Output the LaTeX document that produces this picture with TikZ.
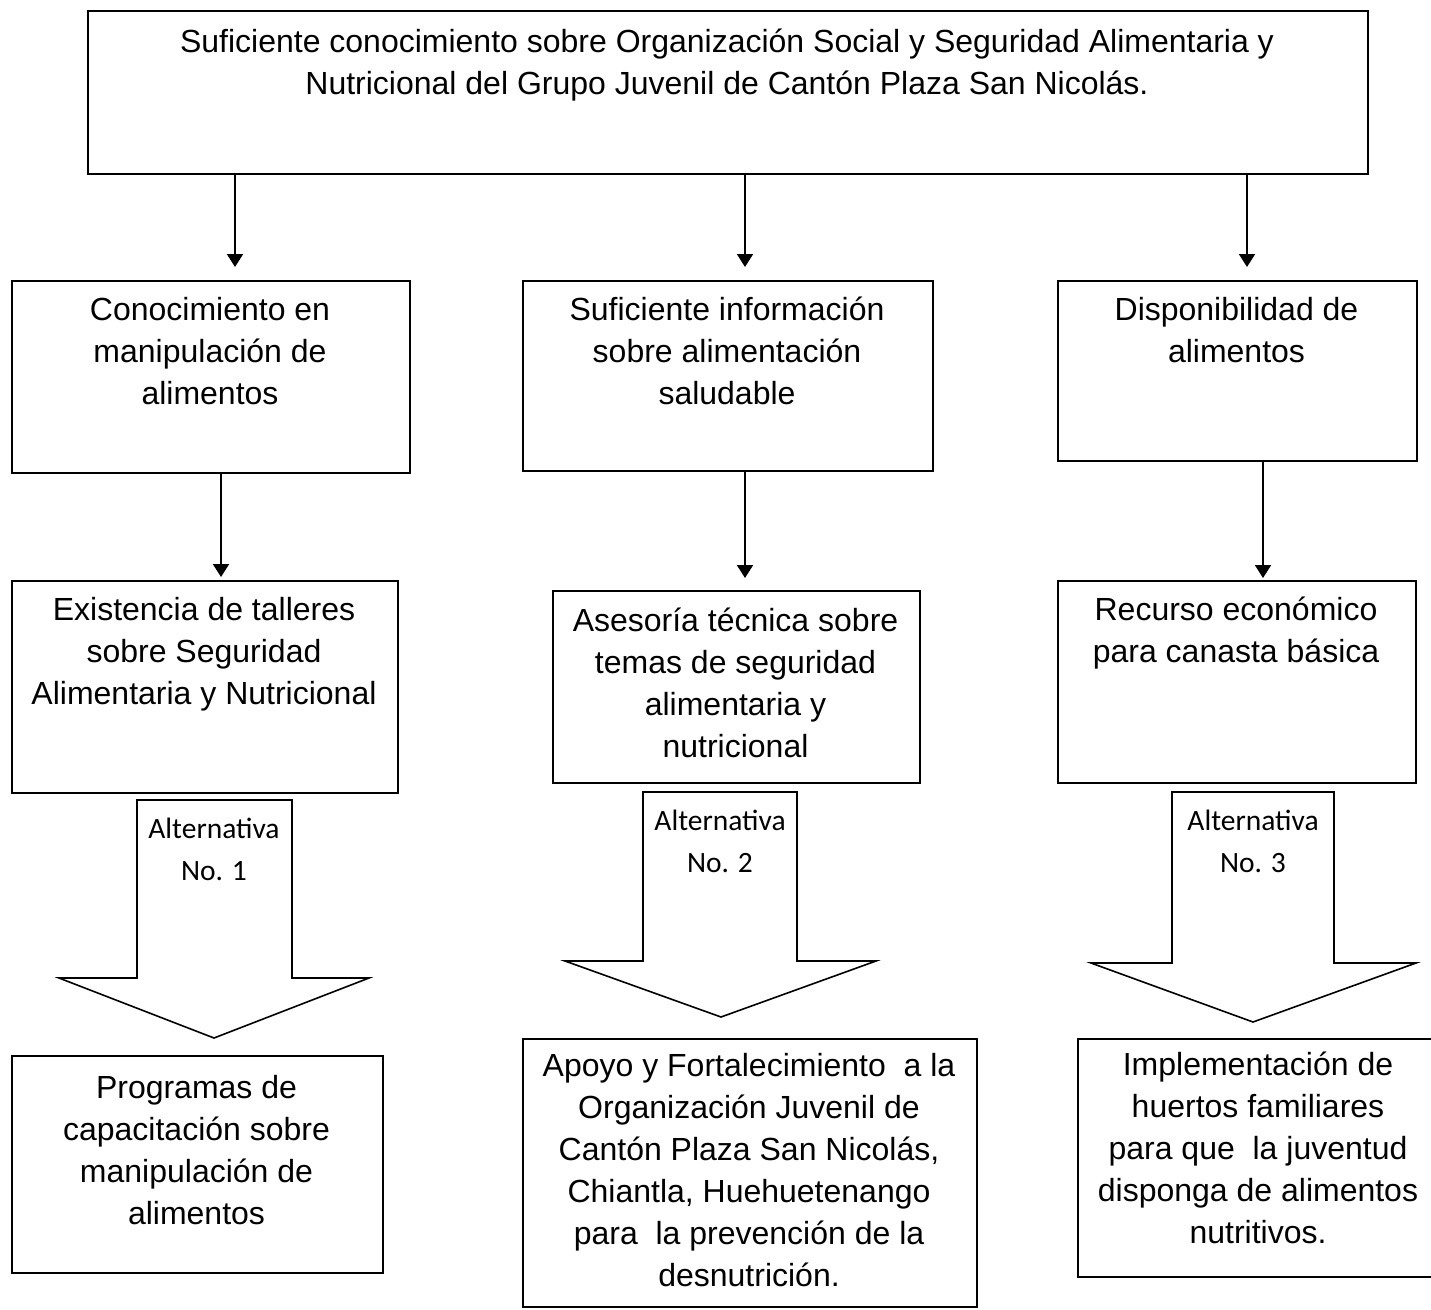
\documentclass[tikz,border=0pt]{standalone}
\usepackage{fontspec}
\setmainfont{Liberation Sans}
\newfontfamily\calib{Carlito}
\usetikzlibrary{arrows.meta}
\begin{document}
\begin{tikzpicture}[x=1pt,y=-1pt,
  box/.style={draw, line width=2pt, inner sep=0pt, anchor=north west},
  txt/.style={font=\fontsize{32}{42}\selectfont, align=center, inner sep=0pt, anchor=north},
  alt/.style={font=\calib\fontsize{29.5}{42}\selectfont, align=center, inner sep=0pt, anchor=north},
  conn/.style={line width=2pt, -{Triangle[width=16pt,length=13pt]}},
  blockarrow/.style={draw, line width=1.6pt, line join=miter, fill=white}
]
\useasboundingbox (0,0) rectangle (1431,1309);

% boxes
\node[box, minimum width=1280pt, minimum height=163pt] (top) at (87,10) {};
\node[box, minimum width=398pt, minimum height=192pt] (r2a) at (11,280) {};
\node[box, minimum width=410pt, minimum height=190pt] (r2b) at (522,280) {};
\node[box, minimum width=359pt, minimum height=180pt] (r2c) at (1057,280) {};
\node[box, minimum width=386pt, minimum height=212pt] (r3a) at (11,580) {};
\node[box, minimum width=367pt, minimum height=192pt] (r3b) at (552,590) {};
\node[box, minimum width=358pt, minimum height=202pt] (r3c) at (1057,580) {};
\node[box, minimum width=371pt, minimum height=217pt] (r4a) at (11,1055) {};
\node[box, minimum width=454pt, minimum height=268pt] (r4b) at (522,1038) {};
\node[box, minimum width=362pt, minimum height=238pt] (r4c) at (1077,1038) {};

% texts
\node[txt] (topt) at (727,22.6) {\strut Suficiente conocimiento sobre Organización Social y Seguridad Alimentaria y\\Nutricional del Grupo Juvenil de Cantón Plaza San Nicolás.};
\node[txt] (r2at) at (210,290.6) {\strut Conocimiento en\\manipulación de\\alimentos};
\node[txt] (r2bt) at (727,290.6) {\strut Suficiente información\\sobre alimentación\\saludable};
\node[txt] (r2ct) at (1236.5,290.6) {\strut Disponibilidad de\\alimentos};
\node[txt] (r3at) at (204,590.6) {\strut Existencia de talleres\\sobre Seguridad\\Alimentaria y Nutricional};
\node[txt] (r3bt) at (735.5,601.6) {\strut Asesoría técnica sobre\\temas de seguridad\\alimentaria y\\nutricional};
\node[txt] (r3ct) at (1236,590.6) {\strut Recurso económico\\para canasta básica};
\node[txt] (r4at) at (196.5,1068.6) {\strut Programas de\\capacitación sobre\\manipulación de\\alimentos};
\node[txt] (r4bt) at (749,1046.6) {\strut Apoyo y Fortalecimiento~ a la\\Organización Juvenil de\\Cantón Plaza San Nicolás,\\Chiantla, Huehuetenango\\para~ la prevención de la\\desnutrición.};
\node[txt] (r4ct) at (1258,1045.6) {\strut Implementación de\\huertos familiares\\para que~ la juventud\\disponga de alimentos\\nutritivos.};

% connectors
\coordinate (xa) at (235,0);
\coordinate (xb) at (745,0);
\coordinate (xc) at (1247,0);
\coordinate (ya) at (221,0);
\coordinate (yb) at (745,0);
\coordinate (yc) at (1263,0);
\draw[conn, shorten >=13pt] (top.south -| xa) -- (r2a.north -| xa);
\draw[conn, shorten >=13pt] (top.south -| xb) -- (r2b.north -| xb);
\draw[conn, shorten >=13pt] (top.south -| xc) -- (r2c.north -| xc);
\draw[conn, shorten >=3pt] (r2a.south -| ya) -- (r3a.north -| ya);
\draw[conn, shorten >=12pt] (r2b.south -| yb) -- (r3b.north -| yb);
\draw[conn, shorten >=2pt] (r2c.south -| yc) -- (r3c.north -| yc);

% block arrows
\draw[blockarrow] (137,800) -- (137,978) -- (59,978) -- (214,1038) -- (369,978) -- (292,978) -- (292,800) -- cycle;
\draw[blockarrow] (643,792) -- (643,961) -- (565,961) -- (721,1017) -- (876,961) -- (797,961) -- (797,792) -- cycle;
\draw[blockarrow] (1172,792) -- (1172,963) -- (1091,963) -- (1253,1022) -- (1416,963) -- (1334,963) -- (1334,792) -- cycle;

\node[alt] (alt1) at (214,808.6) {\strut Alternativa\\No. 1};
\node[alt] (alt2) at (720,800.6) {\strut Alternativa\\No. 2};
\node[alt] (alt3) at (1253,800.6) {\strut Alternativa\\No. 3};
\end{tikzpicture}
\end{document}
